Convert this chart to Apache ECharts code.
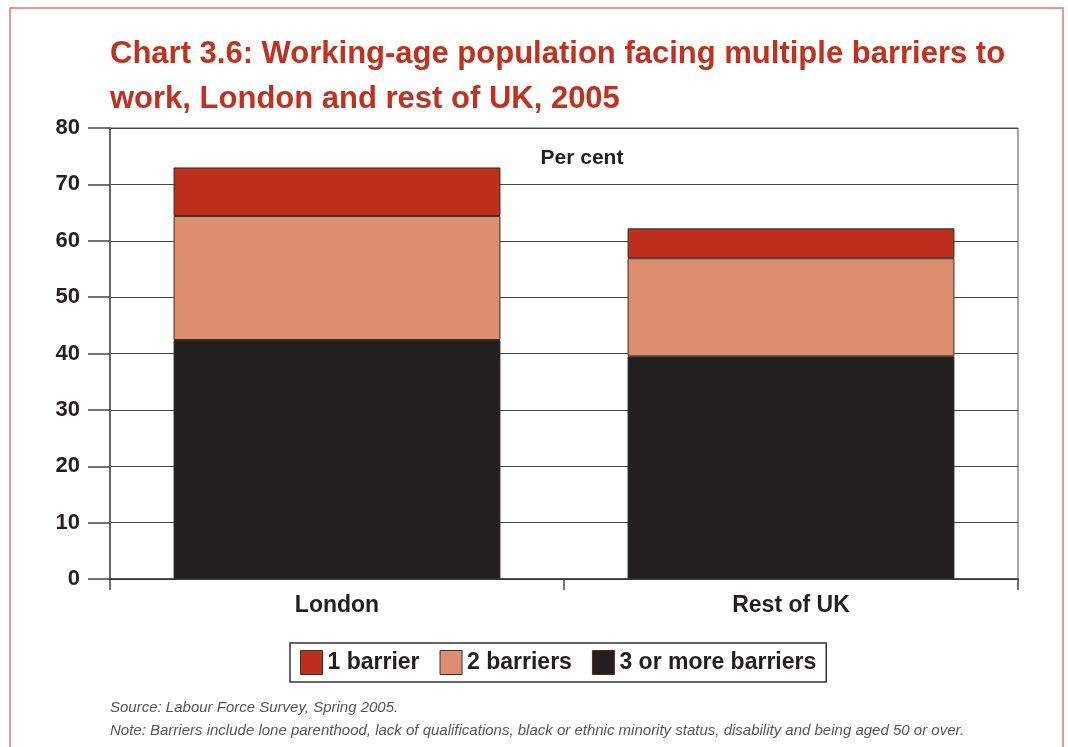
<!DOCTYPE html>
<html>
<head>
<meta charset="utf-8">
<script src="https://cdn.jsdelivr.net/npm/echarts@6/dist/echarts.min.js"></script>
<style>
  html, body { margin: 0; padding: 0; background: #fff; }
  #chart { width: 1068px; height: 747px; }
</style>
</head>
<body>
<div id="chart"></div>
<script>
// Regions on the category axis
const categories = ['London', 'Rest of UK'];
// Share of working-age population (per cent) by number of barriers
const threeOrMore = [42.4, 39.5];
const twoBarriers = [22.0, 17.4];
const oneBarrier = [8.6, 5.3];
const yTicks = [0, 10, 20, 30, 40, 50, 60, 70, 80];

const FONT = "'Liberation Sans', 'DejaVu Sans', sans-serif";
const INK = '#231F20';

const chart = echarts.init(document.getElementById('chart'), null, { renderer: 'canvas' });

const barBase = {
  type: 'bar',
  stack: 'total',
  barWidth: '72%'
};

chart.setOption({
  animation: false,
  backgroundColor: '#fff',
  title: [
    {
      text: 'Chart 3.6: Working-age population facing multiple barriers to\nwork, London and rest of UK, 2005',
      left: 105, top: 27,
      textStyle: { fontFamily: FONT, fontWeight: 'bold', fontSize: 31, lineHeight: 45, color: '#C0311F' }
    },
    {
      text: 'Per cent',
      left: 577, top: 143, textAlign: 'center',
      textStyle: { fontFamily: FONT, fontWeight: 'bold', fontSize: 21, color: INK }
    },
    {
      text: 'Source: Labour Force Survey, Spring 2005.\nNote: Barriers include lone parenthood, lack of qualifications, black or ethnic minority status, disability and being aged 50 or over.',
      left: 105, top: 691,
      textStyle: { fontFamily: FONT, fontStyle: 'italic', fontWeight: 'normal', fontSize: 15, lineHeight: 23, color: '#555' }
    }
  ],
  graphic: [
    {
      type: 'rect', silent: true,
      shape: { x: 10, y: 8, width: 1053, height: 800 },
      style: { fill: 'none', stroke: '#D97A6C', lineWidth: 1.5 }
    }
  ],
  legend: {
    data: ['1 barrier', '2 barriers', '3 or more barriers'],
    left: 290, top: 643,
    orient: 'horizontal',
    icon: 'rect',
    itemWidth: 22, itemHeight: 24, itemGap: 20,
    padding: [7, 10, 7, 10],
    borderColor: '#333', borderWidth: 1.5,
    textStyle: { fontFamily: FONT, fontWeight: 'bold', fontSize: 23, color: INK, padding: [0, 0, 0, 0] },
    itemStyle: { borderColor: '#4a2a22', borderWidth: 1 }
  },
  grid: {
    left: 110, right: 50, top: 128, bottom: 168,
    show: true, borderColor: '#555', borderWidth: 1, backgroundColor: 'transparent'
  },
  xAxis: {
    type: 'category',
    data: categories,
    axisLine: { lineStyle: { color: '#333', width: 1.5 } },
    axisTick: { show: true, length: 11, lineStyle: { color: '#444', width: 1.5 } },
    axisLabel: { fontFamily: FONT, fontWeight: 'bold', fontSize: 23, color: INK, margin: 15 }
  },
  yAxis: {
    type: 'value',
    min: yTicks[0], max: yTicks[yTicks.length - 1], interval: 10,
    axisLine: { show: true, lineStyle: { color: '#666', width: 2 } },
    axisTick: { show: true, inside: false, length: 22, lineStyle: { color: '#444', width: 1.5 } },
    splitLine: { show: true, lineStyle: { color: '#444', width: 1.2 } },
    axisLabel: {
      fontFamily: FONT, fontWeight: 'bold', fontSize: 22, color: INK, margin: 30
    }
  },
  series: [
    Object.assign({}, barBase, { name: '3 or more barriers', data: threeOrMore, itemStyle: { color: INK, borderColor: '#2b2b2b', borderWidth: 1 } }),
    Object.assign({}, barBase, { name: '2 barriers', data: twoBarriers, itemStyle: { color: '#DE8E70', borderColor: '#3a2a25', borderWidth: 1 } }),
    Object.assign({}, barBase, { name: '1 barrier', data: oneBarrier, itemStyle: { color: '#BE2F1C', borderColor: '#2b2b2b', borderWidth: 1 } })
  ]
});
</script>
</body>
</html>
